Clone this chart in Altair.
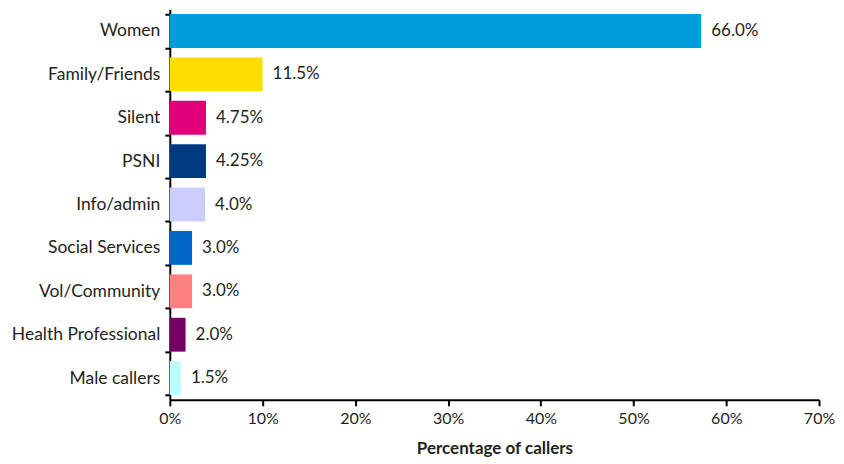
import altair as alt
import pandas as pd

categories = ["Women", "Family/Friends", "Silent", "PSNI", "Info/admin",
              "Social Services", "Vol/Community", "Health Professional", "Male callers"]
bar_values = [57.3, 10.0, 3.9, 3.9, 3.8, 2.4, 2.4, 1.7, 1.2]
label_texts = ["66.0%", "11.5%", "4.75%", "4.25%", "4.0%", "3.0%", "3.0%", "2.0%", "1.5%"]
colors = ["#009DDC", "#FFDD00", "#E2007A", "#003A80", "#CCCCFF",
          "#0066CC", "#FF8080", "#770066", "#BBFFFF"]
x_ticks = [0, 10, 20, 30, 40, 50, 60, 70]

df = pd.DataFrame({"category": categories, "value": bar_values,
                   "label": label_texts, "color": colors})

FONT = "Lato"
TXT = "#231F20"

y_enc = alt.Y("category:N", sort=categories, title=None,
              scale=alt.Scale(paddingInner=0.22, paddingOuter=0.11),
              axis=alt.Axis(tickBand="extent", domainColor="black", domainWidth=2,
                            tickColor="black", tickWidth=2, tickSize=5,
                            labelFont=FONT, labelFontSize=17.5, labelColor=TXT,
                            labelPadding=5))
x_enc = alt.X("value:Q", title="Percentage of callers",
              scale=alt.Scale(domain=[0, 70], nice=False),
              axis=alt.Axis(values=x_ticks, labelExpr="datum.value + '%'", grid=False,
                            labelFlush=False, labelOverlap=False,
                            domainColor="black", domainWidth=2, tickColor="black",
                            tickWidth=2, tickSize=6, labelFont=FONT, labelFontSize=16,
                            labelColor=TXT, labelPadding=5, titleFont=FONT,
                            titleFontSize=17, titleFontWeight="bold", titleColor=TXT,
                            titlePadding=14))

bars = alt.Chart(df).mark_bar().encode(
    x=x_enc, y=y_enc,
    color=alt.Color("color:N", scale=None),
)
labels = alt.Chart(df).mark_text(align="left", baseline="middle", dx=10,
                                 font=FONT, fontSize=17, color=TXT).encode(
    x="value:Q", y=alt.Y("category:N", sort=categories), text="label:N")

chart = (bars + labels).properties(
    width=650, height=391,
    background="white",
    autosize=alt.AutoSizeParams(type="none"),
    padding={"left": 162, "top": 1, "right": 17, "bottom": 62},
).configure_view(stroke=None)

chart.save("out.html", embed_options={"renderer": "svg", "actions": False})
